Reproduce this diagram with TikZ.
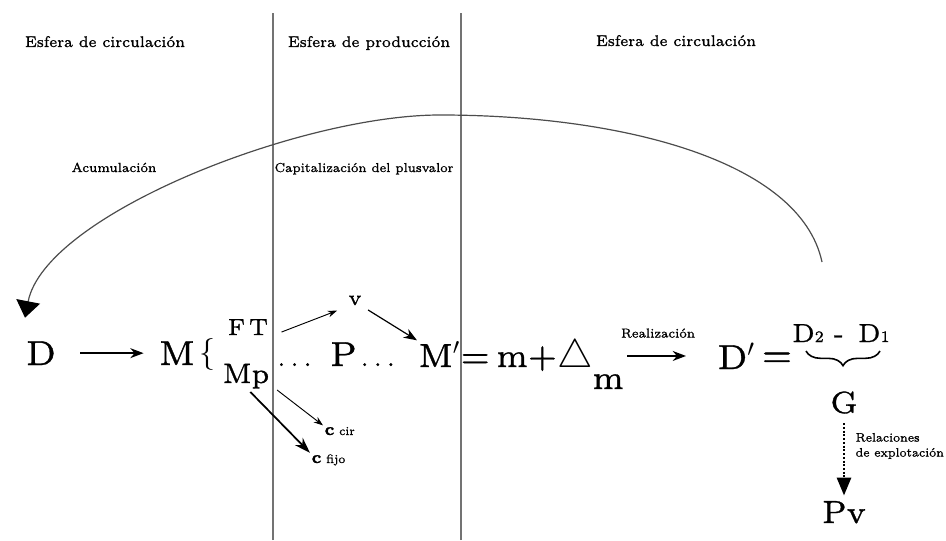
\documentclass[tikz,border=0pt]{standalone}
\usepackage{fix-cm}
\usepackage{amsmath}
\usepackage{amssymb}
\usepackage{fontspec}
\setmainfont{lmroman7-regular.otf}[BoldFont=lmroman7-bold.otf,FakeBold=1]
\usetikzlibrary{arrows.meta,decorations.pathreplacing}
\newcommand{\fsz}[1]{\fontsize{#1}{#1}\selectfont}
\newcommand{\dts}{{\fsz{18}.\kern4pt.\kern4pt.}}
\begin{document}
\begin{tikzpicture}[x=0.75pt,y=0.75pt,
    lbl/.style={inner sep=1pt,font=\fsz{9.9}},
    head/.style={inner sep=1pt,font=\fsz{11.6},anchor=base},
    sym/.style={inner sep=1pt,font=\fsz{26},anchor=base},
    sphere/.style={black!55,line width=0.8pt},
    arr/.style={-{Stealth[length=10pt,width=7.5pt]},line width=1pt},
    thin/.style={-{Stealth[length=7pt,width=5pt]},line width=0.7pt}]
  \useasboundingbox (0,0) rectangle (946,540);
  \draw[sphere] (273,0) -- (273,527);
  \draw[sphere] (461,0) -- (461,527);
  \node[head] (h1) at (105,493) {Esfera de circulación};
  \node[head] (h2) at (369,493) {Esfera de producción};
  \node[head] (h3) at (676,494) {Esfera de circulación};
  \node[lbl,anchor=base] (acu) at (114,368) {Acumulación};
  \node[lbl,anchor=base,font=\fsz{9.7}] (cap) at (364,368) {Capitalización del plusvalor};
  \node[sym] (D) at (41,175) {D};
  \node[sym] (M) at (177,175) {M};
  \node[inner sep=1pt,font=\fsz{24}] (br) at (207.5,186) {$\{$};
  \node[sym,font=\fsz{17.5}] (FT) at (248,205) {F\,T};
  \node[sym,font=\fsz{21}] (Mp) at (246,157) {Mp};
  \node[sym,font=\fsz{16}] (v) at (355,235) {v};
  \node[sym,anchor=base west] (P) at (276,174) {\dts\hspace{14pt}P\hspace{3pt}\dts};
  \node[sym,anchor=base west,font=\fsz{25}] (M2) at (417,173) {M$'$};
  \node[sym,anchor=base west,font=\fsz{25}] (eqm) at (459,173) {=\hspace{5pt}m+{\fsz{30}$\triangle$}\raisebox{-16.5pt}{m}};
  \node[sym,anchor=base west] (Dp) at (716,171) {D$'$};
  \node[sym] (eqD) at (777,174) {=};
  \node[sym,font=\fsz{19.5}] (D21) at (841,198) {D{\fsz{12}2} - \,D{\fsz{12}1}};
  \node[sym,font=\fsz{23}] (G) at (844,127) {G};
  \node[sym,font=\fsz{24}] (Pv) at (844,17) {Pv};
  \node[inner sep=1pt,anchor=base west,font=\fsz{9.1}] (ccir) at (323,105) {{\fsz{13}\bfseries c} cir};
  \node[inner sep=1pt,anchor=base west,font=\fsz{9.1}] (cfijo) at (310,77) {{\fsz{13}\bfseries c} fijo};
  \node[inner sep=1pt,font=\fontsize{9.2}{11.25}\selectfont,align=left,anchor=west] (rel) at (854,94) {Relaciones\\de explotación};
  \coordinate (arcA) at (822,278);
  \draw[black!70,line width=0.9pt,-{Triangle[width=18pt,length=12.5pt,color=black]}] (arcA) .. controls (800,380) and (620,425) .. (440,425) .. controls (300,425) and (45,325) .. ([shift={(-16,22)}]D.north);
  \draw[arr,shorten <=17pt,shorten >=10.5pt] (D) -- (M);
  \draw[thin,shorten <=9.5pt,shorten >=8pt] (FT.south east) -- (v.south west);
  \draw[arr,line width=0.9pt,shorten <=4.5pt] (v.south east) -- (M2.north west);
  \draw[thin,shorten <=6pt] (Mp.-20) -- (ccir.north west);
  \draw[-{Stealth[length=12pt,width=8pt]},line width=1.3pt,shorten <=2pt] (Mp.-80) -- (cfijo.north west);
  \draw[arr,line width=1.2pt,shorten <=1.5pt,shorten >=22.5pt] (eqm.east |- Dp.west) -- (Dp.west) node[pos=0.36,above=12pt,lbl,font=\fsz{9.8}] (real) {Realización};
  \draw[decorate,decoration={brace,mirror,amplitude=11pt},line width=1.2pt] (806,189) -- (880,189);
  \draw[line width=2.2pt,dash pattern=on 1.5pt off 1.3pt,-{Triangle[width=10.5pt,length=13.5pt]},shorten <=6pt,shorten >=3pt] (G) -- (Pv);
\end{tikzpicture}
\end{document}
